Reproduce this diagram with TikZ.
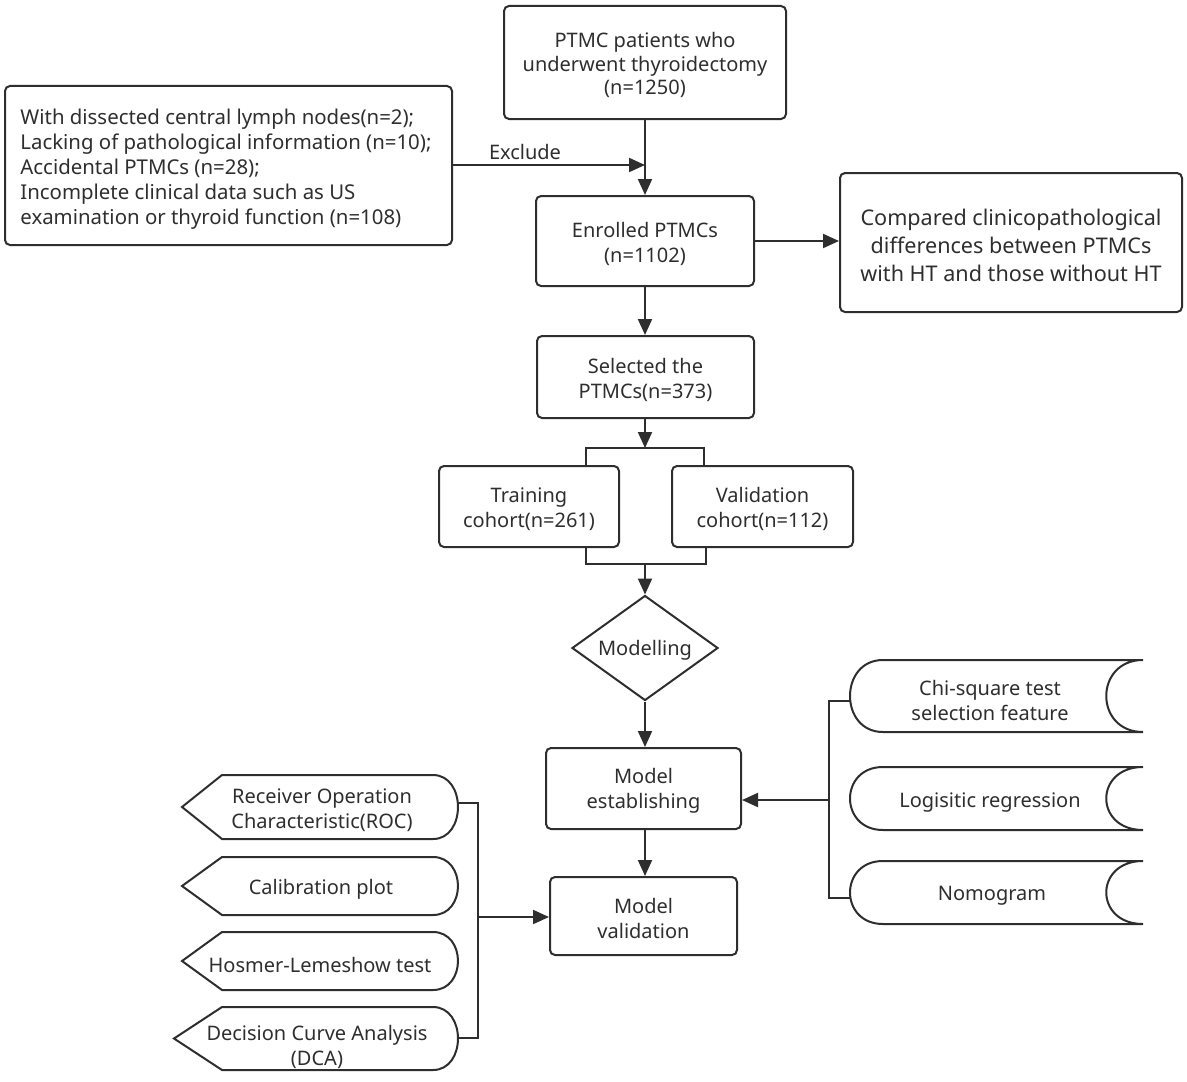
\documentclass[tikz,border=0pt]{standalone}
\usepackage{fontspec}
\setmainfont{Noto Sans}
\usetikzlibrary{shapes.geometric,arrows.meta}
\definecolor{ink}{HTML}{2E2E2E}
\newcommand{\storedshape}[4]{% x1 x2 ytop ybot
  \draw[line] (#1+33,#3) -- (#2,#3) .. controls (#2-49,#3) and (#2-49,#4) .. (#2,#4) -- (#1+33,#4) .. controls (#1-11,#4) and (#1-11,#3) .. cycle;}
\newcommand{\displayshape}[4]{% xleft ytop ybot xright
  \draw[line] (#1,{(#2+#3)/2}) -- (222,#2) -- (#4-25,#2) .. controls (#4+8.3,#2) and (#4+8.3,#3) .. (#4-25,#3) -- (222,#3) -- cycle;}
\begin{document}
\begin{tikzpicture}[x=0.5pt,y=-0.5pt,
  font=\fontsize{10}{12.5}\selectfont, text=ink,
  line/.style={draw=ink, line width=1pt},
  box/.style={draw=ink, line width=1pt, rounded corners=2.5pt, inner sep=0pt},
  txt/.style={align=center, inner sep=0pt, yshift=-1.3pt},
  arr/.style={draw=ink, line width=1pt, -{Triangle[length=8pt,width=7pt]}},
  lbl/.style={align=center, inner sep=0pt, yshift=-1.3pt}]
\useasboundingbox (0,0) rectangle (1187,1081);

% main boxes
\node[box, minimum width=141pt, minimum height=56.5pt,
  label={[txt, font=\fontsize{10}{11.9}\selectfont]center:{PTMC patients who\\underwent thyroidectomy\\(n=1250)}}] (top) at (645,62.5) {};
\node[box, minimum width=223.5pt, minimum height=79.5pt] (excl) at (228.5,165.5) {};
\node[lbl, align=left, anchor=west, font=\fontsize{10.2}{12.5}\selectfont] (excltext) at (20,166.5) {With dissected central lymph nodes(n=2);\\Lacking of pathological information (n=10);\\Accidental PTMCs (n=28);\\Incomplete clinical data such as US\\examination or thyroid function (n=108)};
\node[box, minimum width=109pt, minimum height=45pt,
  label={[txt]center:{Enrolled PTMCs\\(n=1102)}}] (enr) at (645,241) {};
\node[box, minimum width=171pt, minimum height=69.5pt,
  label={[txt, font=\fontsize{10.8}{14}\selectfont]center:{Compared clinicopathological\\differences between PTMCs\\with HT and those without HT}}] (cmp) at (1011,242.5) {};
\node[box, minimum width=108.5pt, minimum height=41pt,
  label={[txt]center:{Selected the\\PTMCs(n=373)}}] (sel) at (645.5,377) {};
\node[box, minimum width=90pt, minimum height=40.5pt,
  label={[txt]center:{Training\\cohort(n=261)}}] (train) at (529,506.5) {};
\node[box, minimum width=90.5pt, minimum height=40.5pt,
  label={[txt]center:{Validation\\cohort(n=112)}}] (val) at (762.5,506.5) {};
\node[draw=ink, line width=1pt, diamond, minimum width=73pt, minimum height=52.5pt, inner sep=0pt,
  label={[txt]center:{Modelling}}] (mod) at (645,648) {};
\node[box, minimum width=97.5pt, minimum height=40.5pt,
  label={[txt]center:{Model\\establishing}}] (est) at (643.5,788.5) {};
\node[box, minimum width=93.5pt, minimum height=39pt,
  label={[txt]center:{Model\\validation}}] (mval) at (643.5,916) {};

% exclusion
\coordinate (jx) at (645,165);
\draw[arr] (excl.east |- jx) -- (jx);
\node[lbl] (exlabel) at (525,149) {Exclude};
\draw[arr] (top.south -| jx) -- (enr.north -| jx);
\draw[arr] (enr.east) -- (cmp.west |- enr.east);
\draw[arr] (enr.south -| jx) -- (sel.north -| jx);

% split bracket
\coordinate (s1) at (645,448);
\coordinate (sl) at (586,448);
\coordinate (sr) at (704,448);
\draw[arr] (sel.south -| s1) -- (s1);
\draw[line] (sl |- train.north) -- (sl) -- (sr) -- (sr |- val.north);
\coordinate (m1) at (645,564);
\coordinate (ml) at (586,564);
\coordinate (mr) at (706,564);
\draw[line] (ml |- train.south) -- (ml) -- (mr) -- (mr |- val.south);
\draw[arr] (m1) -- (mod.north);
\draw[arr] (mod.south) -- (est.north -| mod.south);
\draw[arr] (est.south -| mod.south) -- (mval.north -| mod.south);

% right stored-data shapes
\storedshape{850}{1143}{660}{732}
\storedshape{850}{1143}{767}{830}
\storedshape{850}{1143}{861}{924}
\node[lbl] (chi) at (990,698) {Chi-square test\\selection feature};
\node[lbl] (logit) at (990,800) {Logisitic regression};
\node[lbl] (nomo) at (992,893) {Nomogram};
\coordinate (rt) at (851,701);
\coordinate (rb) at (851,898);
\coordinate (rm) at (829,800);
\draw[line] (rt) -- (rm |- rt) -- (rm |- rb) -- (rb);
\draw[arr] (rm) -- (est.east |- rm);

% left display shapes
\displayshape{182}{775}{839}{458}
\displayshape{182}{857}{915}{458}
\displayshape{182}{932}{990}{458}
\displayshape{174}{1007}{1070}{458}
\node[lbl] (roc) at (322,808) {Receiver Operation\\Characteristic(ROC)};
\node[lbl] (cal) at (321,887) {Calibration plot};
\node[lbl] (hl) at (320,962) {Hosmer-Lemeshow test};
\node[lbl] (dca) at (317,1044) {Decision Curve Analysis\\(DCA)};
\coordinate (lt) at (458,803);
\coordinate (lb) at (458,1038);
\coordinate (lm) at (478,917);
\draw[line] (lt) -- (lm |- lt) -- (lm |- lb) -- (lb);
\draw[arr] (lm) -- (mval.west |- lm);
\end{tikzpicture}
\end{document}
